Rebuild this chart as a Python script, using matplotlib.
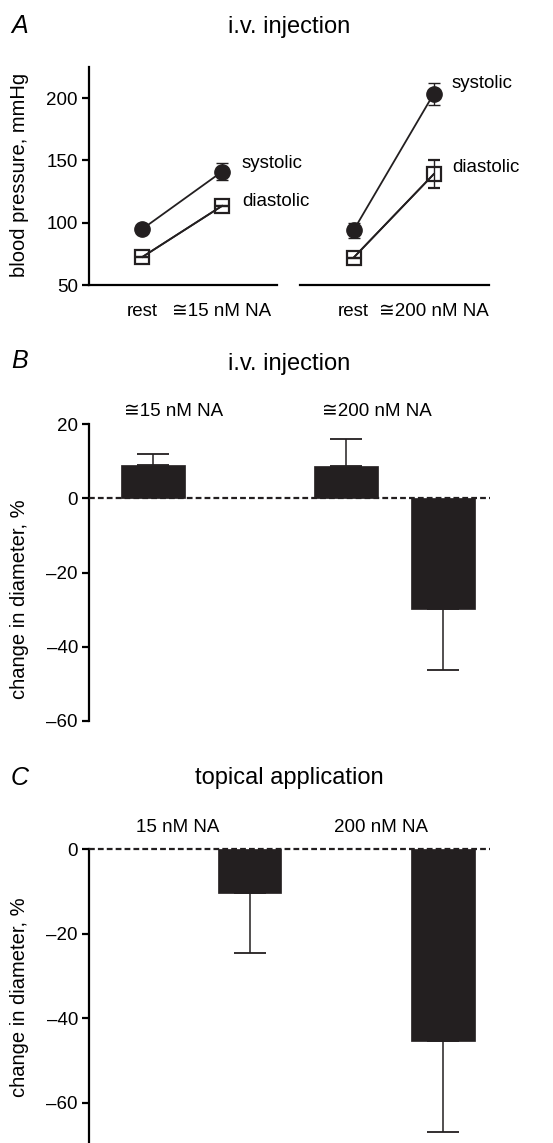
import matplotlib
matplotlib.use("Agg")
import matplotlib.pyplot as plt
import numpy as np

plt.rcParams['font.family'] = ['Liberation Sans', 'DejaVu Sans']
plt.rcParams['axes.unicode_minus'] = True

# ---------------- data ----------------
# Panel A: blood pressure (mmHg)
a_conditions = ["rest", "≅15 nM NA"]
a_conditions2 = ["rest", "≅200 nM NA"]
sys_low = [95, 141]
sys_low_err = [0, 7]
dia_low = [72.5, 113.5]
dia_low_err = [0, 0]
sys_high = [94, 203.5]
sys_high_err = [6, 9]
dia_high = [72, 139]
dia_high_err = [0, 11]

# Panel B: i.v. injection, change in diameter (%)
b_slots = [0, 2, 3]
b_vals = [9.0, 8.8, -29.8]
b_err = [2.9, 7.3, 16.5]
b_group_labels = ["≅15 nM NA", "≅200 nM NA"]
b_ticks = [20, 0, -20, -40, -60]

# Panel C: topical application, change in diameter (%)
c_slots = [1, 3]
c_vals = [-10.5, -45.4]
c_err = [14.2, 21.5]
c_group_labels = ["15 nM NA", "200 nM NA"]
c_ticks = [0, -20, -40, -60]

# ---------------- layout helpers ----------------
W, H = 553, 1143
fig = plt.figure(figsize=(W / 100, H / 100), dpi=100)


def ax_px(x0, y0, x1, y1):
    return fig.add_axes([x0 / W, 1 - y1 / H, (x1 - x0) / W, (y1 - y0) / H])


def ftext(x, y, s, **kw):
    fig.text(x / W, 1 - y / H, s, **kw)


INK = '#231f20'
TICK_FS = 13.5
LAB_FS = 14.5
TITLE_FS = 17
SPW = 1.6

# ---------------- Panel A ----------------
xlim_a = (-0.67, 1.69)
axL = ax_px(89, 67, 277, 285)
axR = ax_px(300, 67, 489, 285)
for ax, sysv, syse, diav, diae, labs in [
        (axL, sys_low, sys_low_err, dia_low, dia_low_err, a_conditions),
        (axR, sys_high, sys_high_err, dia_high, dia_high_err, a_conditions2)]:
    x = np.arange(len(labs))
    ax.errorbar(x, sysv, yerr=syse, color=INK, lw=1.3, marker='o', ms=11,
                mfc=INK, mec=INK, capsize=4, elinewidth=1.0, capthick=1.0, zorder=3)
    ax.errorbar(x, diav, yerr=diae, color=INK, lw=1.3, marker='s', ms=9.5,
                mfc='none', mec=INK, mew=1.6, capsize=4, elinewidth=1.0,
                capthick=1.0, zorder=2)
    ax.plot(x, diav, color=INK, lw=1.3, zorder=4)
    ax.set_xlim(*xlim_a)
    ax.set_ylim(50, 225)
    ax.set_xticks(x)
    ax.set_xticklabels(labs, fontsize=TICK_FS)
    ax.tick_params(axis='x', length=0, pad=13)
    for s in ['top', 'right']:
        ax.spines[s].set_visible(False)
    ax.spines['bottom'].set_linewidth(SPW)
    ax.spines['left'].set_linewidth(SPW)
    ax.patch.set_alpha(0)

axL.set_yticks([50, 100, 150, 200])
axL.tick_params(axis='y', labelsize=TICK_FS, length=5, width=SPW, direction='out', pad=3)
axR.spines['left'].set_visible(False)
axR.set_yticks([])

ftext(20, 175, "blood pressure, mmHg", rotation=90, ha='center', va='center', fontsize=LAB_FS)
ftext(242, 163, "systolic", ha='left', va='center', fontsize=TICK_FS)
ftext(242, 202, "diastolic", ha='left', va='center', fontsize=TICK_FS)
ftext(452, 84, "systolic", ha='left', va='center', fontsize=TICK_FS)
ftext(452, 168, "diastolic", ha='left', va='center', fontsize=TICK_FS)

# ---------------- bar panels ----------------
xlim_b = (-0.663, 3.49)
BAR_W = 0.66


def bar_panel(ax, slots, vals, errs, ylim, yticks):
    vals = np.asarray(vals)
    errs = np.asarray(errs)
    lower = np.where(vals < 0, errs, 0)
    upper = np.where(vals > 0, errs, 0)
    ax.bar(slots, vals, width=BAR_W, color=INK, edgecolor=INK, lw=0.5, zorder=2)
    ax.errorbar(slots, vals, yerr=[lower, upper], fmt='none', ecolor=INK,
                elinewidth=1.1, capsize=11.5, capthick=1.3, zorder=1)
    ax.axhline(0, color=INK, lw=1.6, ls=(0, (2.6, 1.4)), zorder=3, clip_on=False)
    ax.set_xlim(*xlim_b)
    ax.set_ylim(*ylim)
    ax.set_yticks(yticks)
    ax.set_yticklabels([("\u2013" + str(abs(t))) if t < 0 else str(t) for t in yticks])
    ax.set_xticks([])
    for s in ['top', 'right', 'bottom']:
        ax.spines[s].set_visible(False)
    ax.spines['left'].set_linewidth(SPW)
    ax.tick_params(axis='y', labelsize=TICK_FS, length=5, width=SPW, direction='out', pad=3)
    ax.patch.set_alpha(0)


axB = ax_px(89, 424.3, 490, 720.7)
bar_panel(axB, b_slots, b_vals, b_err, (-60, 20), b_ticks)
axC = ax_px(89, 849, 490, 1143)
bar_panel(axC, c_slots, c_vals, c_err, (-69.5, 0), c_ticks)

ftext(20, 599, "change in diameter, %", rotation=90, ha='center', va='center', fontsize=LAB_FS)
ftext(20, 997, "change in diameter, %", rotation=90, ha='center', va='center', fontsize=LAB_FS)

ftext(174, 412, b_group_labels[0], ha='center', va='center', fontsize=TICK_FS)
ftext(377, 412, b_group_labels[1], ha='center', va='center', fontsize=TICK_FS)
ftext(178, 827, c_group_labels[0], ha='center', va='center', fontsize=TICK_FS)
ftext(381, 827, c_group_labels[1], ha='center', va='center', fontsize=TICK_FS)

# ---------------- titles and panel letters ----------------
ftext(289, 33, "i.v. injection", ha='center', va='baseline', fontsize=TITLE_FS)
ftext(289, 370, "i.v. injection", ha='center', va='baseline', fontsize=TITLE_FS)
ftext(289, 784, "topical application", ha='center', va='baseline', fontsize=TITLE_FS)
ftext(11, 33, "A", ha='left', va='baseline', fontsize=18, style='italic')
ftext(11, 368, "B", ha='left', va='baseline', fontsize=18, style='italic')
ftext(11, 785, "C", ha='left', va='baseline', fontsize=18, style='italic')

fig.savefig("out.png", dpi=100)
